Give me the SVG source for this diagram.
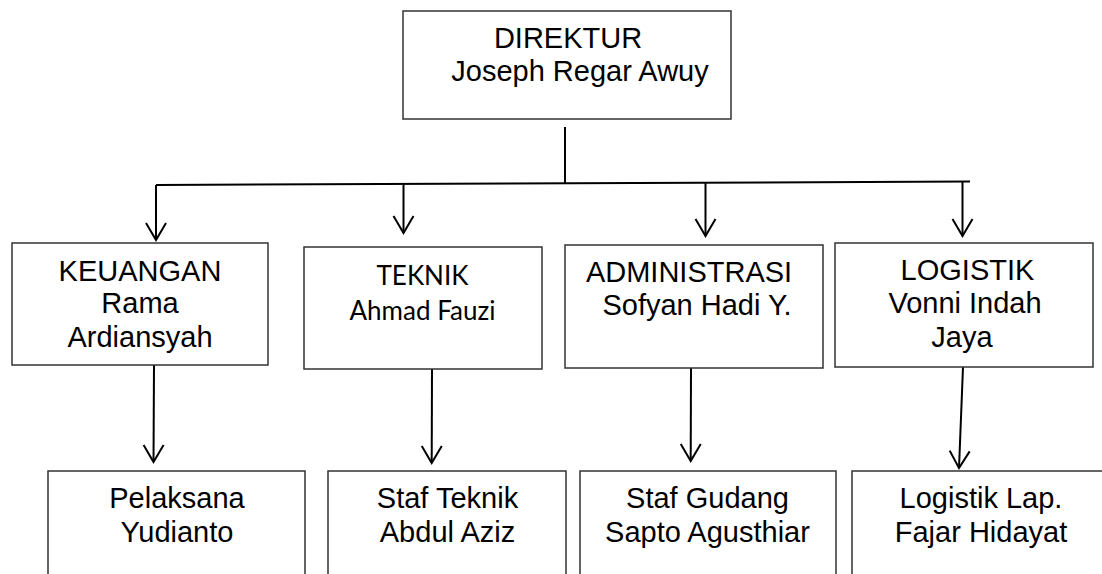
<svg xmlns="http://www.w3.org/2000/svg" width="1102" height="574" viewBox="0 0 1102 574">
<style>
.box{fill:#fff;stroke:#333;stroke-width:1.5}
.t{font-family:"Liberation Sans",Arial,sans-serif;font-size:29px;fill:#000;text-anchor:middle}
.c{font-family:Lato,"Open Sans",sans-serif;font-size:26px;fill:#000;text-anchor:middle}
.ln{stroke:#000;stroke-width:2;fill:none}
.ar{stroke:#000;stroke-width:2;fill:none;marker-end:url(#v)}
</style>
<defs>
<marker id="v" markerUnits="userSpaceOnUse" orient="auto" refX="0" refY="0" markerWidth="40" markerHeight="40" viewBox="-20 -20 40 40" overflow="visible">
<path d="M-17,-10 L0,0 L-17,10" fill="none" stroke="#000" stroke-width="2"/>
</marker>
</defs>
<rect width="1102" height="574" fill="#fff"/>
<g id="connectors">
<line class="ln" x1="565" y1="127" x2="565" y2="183"/>
<line class="ln" x1="156" y1="185" x2="970" y2="181.5"/>
<line class="ar" x1="156" y1="185" x2="156" y2="240"/>
<line class="ar" x1="403.5" y1="184" x2="403.5" y2="233"/>
<line class="ar" x1="705.5" y1="182" x2="705.5" y2="236"/>
<line class="ar" x1="962.5" y1="181.5" x2="962.5" y2="236"/>
<line class="ar" x1="154" y1="365" x2="153.5" y2="462"/>
<line class="ar" x1="432" y1="369" x2="431.7" y2="463"/>
<line class="ar" x1="691" y1="368" x2="690.7" y2="461"/>
<line class="ar" x1="963" y1="367" x2="959" y2="468"/>
</g>
<g id="direktur">
<rect class="box" x="403" y="11" width="328" height="108"/>
<text class="t" x="568" y="48">DIREKTUR</text>
<text class="t" x="580" y="81">Joseph Regar Awuy</text>
</g>
<g id="keuangan">
<rect class="box" x="12" y="243" width="256" height="122"/>
<text class="t" x="140" y="281">KEUANGAN</text>
<text class="t" x="140" y="313">Rama</text>
<text class="t" x="140" y="347">Ardiansyah</text>
</g>
<g id="teknik">
<rect class="box" x="304" y="247" width="238" height="122"/>
<text class="c" x="422.5" y="285">TEKNIK</text>
<text class="c" x="422.5" y="320">Ahmad Fauzi</text>
</g>
<g id="administrasi">
<rect class="box" x="565" y="245" width="258" height="123"/>
<text class="t" x="689" y="282">ADMINISTRASI</text>
<text class="t" x="697" y="315">Sofyan Hadi Y.</text>
</g>
<g id="logistik">
<rect class="box" x="835" y="243" width="258" height="124"/>
<text class="t" x="967.5" y="280">LOGISTIK</text>
<text class="t" x="965" y="313">Vonni Indah</text>
<text class="t" x="962" y="347">Jaya</text>
</g>
<g id="pelaksana">
<rect class="box" x="48" y="471" width="257" height="120"/>
<text class="t" x="177" y="508">Pelaksana</text>
<text class="t" x="177" y="542">Yudianto</text>
</g>
<g id="staf-teknik">
<rect class="box" x="328" y="471" width="238" height="120"/>
<text class="t" x="447.5" y="508">Staf Teknik</text>
<text class="t" x="447.5" y="542">Abdul Aziz</text>
</g>
<g id="staf-gudang">
<rect class="box" x="580" y="471" width="256" height="120"/>
<text class="t" x="707.5" y="508">Staf Gudang</text>
<text class="t" x="707.5" y="542">Sapto Agusthiar</text>
</g>
<g id="logistik-lap">
<rect class="box" x="852" y="471" width="260" height="120"/>
<text class="t" x="981" y="508">Logistik Lap.</text>
<text class="t" x="981" y="542">Fajar Hidayat</text>
</g>
</svg>
